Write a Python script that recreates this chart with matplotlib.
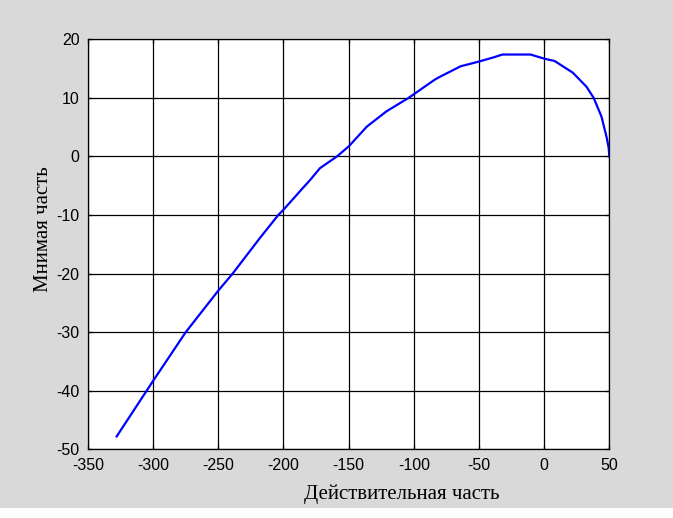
import matplotlib.pyplot as plt
from matplotlib.patches import Rectangle

# Годограф: действительная и мнимая части
re_part = [-328, -305, -300, -275, -250, -239, -218, -204, -200, -186,
           -179.5, -172, -159, -150, -136, -121, -104, -84, -80, -64,
           -50, -39, -32, -20, -10.5, 0, 8, 22, 32.5, 38, 44, 47.8, 49.5, 50]
im_part = [-47.8, -40, -38.3, -30, -22.9, -20, -13.9, -10, -9.1, -5.6,
           -4.0, -2.0, 0, 1.7, 5.1, 7.7, 10, 13.1, 13.6, 15.4,
           16.2, 16.9, 17.4, 17.4, 17.4, 16.7, 16.3, 14.3, 11.9, 10, 6.8, 3.4, 1.5, 0]

xticks = [-350, -300, -250, -200, -150, -100, -50, 0, 50]
yticks = [-50, -40, -30, -20, -10, 0, 10, 20]

plt.rcParams['axes.unicode_minus'] = False
plt.rcParams['font.family'] = ['Liberation Sans', 'DejaVu Sans']

fig = plt.figure(figsize=(6.73, 5.18), dpi=100, facecolor='#d9d9d9')
fig.patches.append(Rectangle((0, 0), 1, 10 / 518, transform=fig.transFigure,
                             facecolor='white', edgecolor='none', zorder=-1))
ax = fig.add_axes([88 / 673, 1 - 449.3 / 518, (609.3 - 88) / 673, (449.3 - 39.3) / 518])
ax.set_facecolor('white')

ax.plot(re_part, im_part, color='#0000ff', linewidth=1.6, zorder=3)

ax.set_xlim(-350, 50)
ax.set_ylim(-50, 20)
ax.set_xticks(xticks)
ax.set_yticks(yticks)
ax.grid(True, color='black', linestyle='-', linewidth=0.9)
ax.set_axisbelow(True)
ax.tick_params(direction='in', length=3, width=0.9, labelsize=11.5,
               colors='black', top=True, right=True, pad=6)
for s in ax.spines.values():
    s.set_linewidth(0.9)

fig.text(402 / 673, 1 - 494 / 518, 'Действительная часть', family='Liberation Serif',
         fontsize=15, ha='center', va='center')
fig.text(44 / 673, 1 - 229 / 518, 'Мнимая часть', family='Liberation Serif',
         fontsize=15, ha='center', va='center', rotation=90)

fig.savefig('out.png', dpi=100, facecolor=fig.get_facecolor())
